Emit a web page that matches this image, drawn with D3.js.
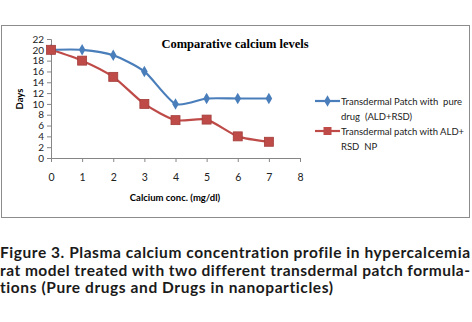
<!DOCTYPE html>
<html><head><meta charset="utf-8">
<script src="https://cdn.jsdelivr.net/npm/d3@7"></script>
<style>body{margin:0;background:#fff}svg{display:block}text{font-variant-ligatures:none;white-space:pre}</style>
</head><body>
<svg id="c" width="472" height="322"></svg>
<script>
const xValues = [0,1,2,3,4,5,6,7];
const xTicks = [0,1,2,3,4,5,6,7,8];
const yTicks = [0,2,4,6,8,10,12,14,16,18,20,22];
const purePatch = [20,20,19,16,10,11,11,11];
const npPatch = [20,18,15,10,7,7.1,4,3];
const seriesNames = [["Transdermal Patch with  pure","drug  (ALD+RSD)"],["Transdermal patch with ALD+","RSD  NP"]];
const chartTitle = "Comparative calcium levels";
const xTitle = "Calcium conc. (mg/dl)";
const yTitle = "Days";
const caption = ["Figure 3. Plasma calcium concentration profile in hypercalcemia","rat model treated with two different transdermal patch formula-","tions (Pure drugs and Drugs in nanoparticles)"];

const svg = d3.select("#c");
const blue = "#4A7EBB", red = "#BE4B48", axisCol = "#868686";
const font = "Lato, 'Open Sans', sans-serif";

svg.append("rect").attr("x",1.5).attr("y",25.5).attr("width",468).attr("height",192)
  .attr("fill","#fff").attr("stroke","#8c8c8c").attr("stroke-width",1);

const x = d3.scaleLinear().domain([0,8]).range([51,300]);
const y = d3.scaleLinear().domain([0,22]).range([158,39]);

const gx = svg.append("g").attr("transform","translate(0,158)")
  .call(d3.axisBottom(x).tickValues(xTicks).tickSize(4).tickPadding(12).tickFormat(d3.format("d")));
const gy = svg.append("g").attr("transform","translate(51,0)")
  .call(d3.axisLeft(y).tickValues(yTicks).tickSize(4).tickPadding(3).tickFormat(d3.format("d")));
[gx,gy].forEach(g=>{
  g.select(".domain").attr("stroke",axisCol);
  g.selectAll(".tick line").attr("stroke",axisCol);
  g.selectAll("text").attr("font-family",font).attr("font-size",10).attr("fill","#222");
});
gx.selectAll("text").attr("font-size",10.5);

svg.append("text").attr("x",235).attr("y",48).attr("text-anchor","middle")
  .attr("font-family","'Liberation Serif','Times New Roman',serif").attr("font-weight","bold")
  .attr("font-size",12.5).text(chartTitle);
svg.append("text").attr("x",175).attr("y",201).attr("text-anchor","middle")
  .attr("font-family",font).attr("font-weight","bold").attr("font-size",9.5).text(xTitle);
svg.append("text").attr("transform","translate(23,99) rotate(-90)").attr("text-anchor","middle")
  .attr("font-family",font).attr("font-weight","bold").attr("font-size",9.5).text(yTitle);

const line = d3.line().x((d,i)=>x(xValues[i])).y(d=>y(d)).curve(d3.curveCardinal.tension(0.3));

svg.append("path").datum(npPatch).attr("d",line).attr("fill","none").attr("stroke",red).attr("stroke-width",2.2);
svg.append("path").datum(purePatch).attr("d",line).attr("fill","none").attr("stroke",blue).attr("stroke-width",2.2);

const diamond = d3.symbol().type(d3.symbolDiamond).size(38);
svg.append("g").selectAll("path").data(purePatch).join("path")
  .attr("transform",(d,i)=>`translate(${x(xValues[i])},${y(d)})`).attr("d",diamond).attr("fill",blue);
svg.append("g").selectAll("rect").data(npPatch).join("rect")
  .attr("x",(d,i)=>x(xValues[i])-4.5).attr("y",d=>y(d)-4.5).attr("width",9).attr("height",9)
  .attr("fill",red).attr("stroke","#a33d3a").attr("stroke-width",0.8);

// legend
const leg = [{c:blue,y:101,sym:"d"},{c:red,y:131,sym:"s"}];
leg.forEach((l,k)=>{
  svg.append("line").attr("x1",315).attr("x2",340).attr("y1",l.y).attr("y2",l.y).attr("stroke",l.c).attr("stroke-width",2.2);
  if(l.sym==="d") svg.append("path").attr("transform",`translate(327.5,${l.y})`).attr("d",diamond).attr("fill",l.c);
  else svg.append("rect").attr("x",323.5).attr("y",l.y-4).attr("width",8).attr("height",8).attr("fill",l.c);
  seriesNames[k].forEach((t,j)=>{
    svg.append("text").attr("x",341).attr("y",l.y+3.5+j*15).attr("font-family",font)
      .attr("font-size",9.5).attr("fill","#222").text(t);
  });
});

// caption
const capLen = [470,470,333];
caption.forEach((t,i)=>{
  svg.append("text").attr("x",0).attr("y",258+i*17.5).attr("font-family",font)
    .attr("font-weight","bold").attr("font-size",15.5).attr("fill","#1a1a1a")
    .attr("textLength",capLen[i]).attr("lengthAdjust","spacing").text(t);
});
</script>
</body></html>
